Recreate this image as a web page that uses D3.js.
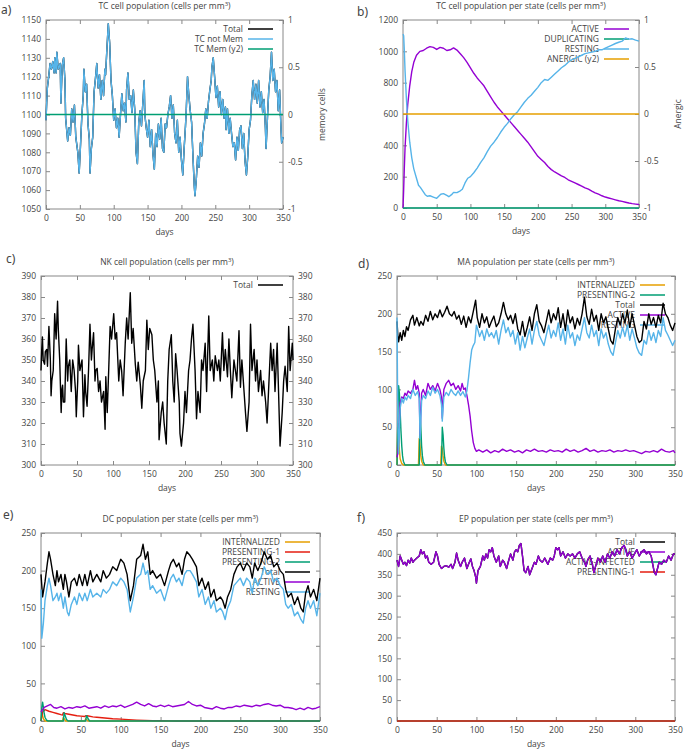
<!DOCTYPE html>
<html>
<head>
<meta charset="utf-8">
<title>Cell populations</title>
<script src="https://cdn.jsdelivr.net/npm/d3@7"></script>
<style>
  body { margin: 0; background: #fff; }
  text { font-family: "Open Sans", sans-serif; fill: #444; }
</style>
</head>
<body>
<div id="chart"></div>

<script type="text/javascript">
// ---- data: [day, cells per mm3] ----
var dayTicks = [0, 50, 100, 150, 200, 250, 300, 350];

// a) TC cell population
var tcNotMem = [[0,1097],[1,1106],[2,1114],[4,1120],[6,1127],[8,1124],[10,1128],[12,1122],[13,1130],[15,1122],[16,1133],[18,1124],[21,1127],[22,1106],[24,1126],[26,1130],[28,1118],[29,1098],[32,1086],[34,1093],[36,1089],[38,1103],[40,1096],[42,1105],[44,1088],[47,1080],[49,1069],[51,1084],[53,1100],[55,1110],[56,1124],[58,1112],[60,1116],[62,1095],[64,1087],[65,1069],[67,1082],[69,1088],[71,1112],[73,1119],[75,1127],[77,1114],[79,1121],[81,1108],[83,1118],[85,1110],[87,1124],[88,1121],[90,1135],[92,1148],[94,1138],[96,1118],[98,1110],[100,1097],[102,1103],[104,1093],[106,1098],[108,1088],[110,1100],[112,1111],[114,1102],[116,1106],[118,1096],[119,1113],[121,1122],[123,1108],[125,1110],[127,1101],[129,1113],[131,1103],[133,1080],[135,1074],[137,1096],[139,1102],[141,1094],[143,1106],[145,1118],[146,1100],[148,1093],[150,1088],[152,1097],[154,1083],[156,1092],[158,1079],[160,1071],[162,1090],[164,1083],[166,1095],[168,1087],[170,1098],[172,1082],[174,1080],[176,1095],[178,1093],[180,1100],[182,1104],[184,1110],[186,1098],[188,1105],[190,1090],[192,1085],[194,1097],[196,1080],[198,1088],[200,1076],[202,1068],[204,1082],[206,1094],[207,1101],[209,1120],[211,1110],[213,1102],[215,1096],[217,1078],[219,1062],[220,1057],[222,1066],[224,1078],[226,1072],[228,1085],[230,1078],[232,1090],[234,1095],[236,1103],[238,1098],[240,1107],[242,1113],[244,1118],[245,1125],[247,1130],[249,1120],[251,1109],[253,1115],[255,1104],[257,1112],[259,1100],[261,1108],[263,1098],[265,1104],[266,1092],[268,1103],[270,1090],[272,1098],[274,1090],[276,1083],[278,1085],[280,1076],[282,1088],[284,1081],[286,1092],[288,1094],[290,1082],[292,1090],[294,1075],[296,1068],[298,1078],[300,1092],[302,1097],[304,1110],[306,1118],[308,1108],[310,1116],[312,1106],[314,1118],[316,1104],[318,1112],[320,1101],[322,1108],[324,1093],[325,1082],[327,1098],[329,1113],[331,1120],[333,1133],[335,1118],[337,1124],[339,1112],[341,1118],[343,1102],[345,1113],[347,1093],[348,1085],[350,1088]];
var tcTotal = tcNotMem;                 // total = not-memory cells, hidden below
var tcMem = [[0,0],[350,0]];            // y2

// b) TC cell population per state
var tcActive = [[0,0],[1,120],[2,260],[3,380],[5,540],[7,660],[10,780],[13,870],[16,930],[20,975],[25,1000],[30,1005],[35,1020],[40,1030],[45,1025],[50,1012],[55,1025],[60,1020],[65,1005],[70,1010],[75,1022],[80,1008],[85,985],[90,960],[95,930],[100,895],[105,860],[110,830],[115,805],[120,780],[125,745],[130,710],[135,675],[140,645],[145,620],[150,595],[155,570],[160,545],[165,520],[170,495],[175,470],[180,445],[185,420],[190,390],[195,360],[200,330],[205,310],[210,290],[215,265],[220,245],[225,230],[230,218],[235,205],[240,195],[245,180],[250,170],[255,160],[260,150],[265,140],[270,128],[275,120],[280,108],[285,97],[290,88],[295,78],[300,70],[305,64],[310,58],[315,52],[320,46],[325,42],[330,37],[335,32],[340,28],[345,25],[350,22]];
var tcDuplicating = [[0,0],[350,0]];
var tcResting = [[0,1110],[1,1100],[2,1000],[3,880],[5,700],[7,560],[10,420],[13,320],[16,250],[20,190],[23,145],[26,130],[30,105],[33,85],[36,75],[40,78],[45,70],[50,62],[53,75],[56,88],[60,92],[65,80],[68,72],[72,85],[75,100],[80,98],[85,110],[88,120],[92,160],[96,190],[100,200],[105,225],[110,255],[115,290],[120,320],[125,360],[130,395],[135,420],[140,450],[145,485],[150,515],[155,540],[160,570],[165,595],[170,615],[175,645],[180,675],[185,700],[190,720],[195,745],[200,770],[205,800],[210,820],[215,815],[220,835],[225,855],[230,875],[235,895],[240,910],[245,930],[250,945],[255,955],[260,965],[265,975],[270,985],[275,990],[280,995],[285,1000],[290,1010],[295,1010],[300,1020],[305,1030],[310,1040],[315,1050],[320,1058],[325,1065],[330,1085],[335,1078],[340,1080],[345,1072],[350,1065]];
var tcAnergic = [[0,0],[350,0]];        // y2

// c) NK cell population
var nkTotal = [[0,345],[1,355],[2,361],[3,350],[5,348],[6,354],[8,355],[9,347],[11,366],[13,350],[14,333],[15,340],[17,345],[19,372],[21,360],[23,378],[24,365],[26,350],[28,325],[29,336],[30,338],[31,330],[33,330],[35,360],[37,340],[38,347],[40,350],[42,335],[44,350],[46,345],[48,335],[49,323],[51,340],[52,357],[54,345],[57,350],[59,323],[61,343],[62,335],[64,328],[66,345],[68,367],[70,350],[71,355],[73,363],[75,340],[76,345],[78,346],[80,335],[82,340],[84,330],[87,335],[89,317],[90,342],[92,325],[94,345],[96,366],[98,360],[101,372],[103,360],[105,363],[108,340],[110,350],[112,345],[114,333],[117,358],[119,370],[121,360],[124,382],[126,358],[128,365],[131,348],[133,340],[135,349],[138,338],[140,327],[142,340],[145,345],[147,369],[149,355],[151,365],[154,362],[156,350],[158,345],[161,330],[163,340],[164,312],[167,325],[169,330],[171,320],[174,310],[176,340],[178,355],[181,362],[183,340],[185,330],[187,353],[189,345],[192,330],[193,315],[195,309],[198,320],[200,335],[202,325],[205,345],[207,350],[209,360],[211,367],[214,345],[216,322],[218,335],[221,325],[223,350],[225,345],[228,358],[230,335],[233,371],[235,345],[238,350],[240,340],[242,352],[245,345],[247,350],[249,340],[252,363],[254,345],[256,355],[259,342],[261,360],[263,345],[265,332],[268,350],[270,345],[272,340],[275,364],[277,337],[279,350],[282,335],[284,325],[286,316],[289,330],[291,367],[293,345],[296,355],[298,340],[300,350],[302,335],[305,345],[307,333],[309,340],[312,330],[314,320],[316,335],[319,358],[321,345],[323,355],[325,335],[328,358],[330,334],[332,309],[335,325],[337,340],[339,347],[342,335],[344,366],[346,345],[349,358],[350,350]];

// d) MA population per state
var maInternalized = [[0,0],[1,55],[2,40],[3,20],[4,8],[6,2],[8,0],[27,0],[28,35],[29,25],[30,12],[31,5],[33,0],[55,0],[56,25],[57,22],[58,12],[59,5],[61,0],[350,0]];
var maPresenting2 = [[0,0],[1,60],[2,105],[3,95],[4,70],[5,45],[6,25],[7,12],[8,5],[10,0],[28,0],[29,70],[30,50],[31,25],[32,12],[33,5],[35,0],[56,0],[57,50],[58,40],[59,22],[60,10],[61,4],[63,0],[350,0]];
var maTotal = [[0,190],[1,172],[2,163],[4,175],[6,165],[8,178],[10,170],[12,183],[14,178],[17,192],[20,198],[22,185],[25,195],[28,184],[30,190],[33,185],[36,198],[39,190],[42,203],[45,192],[48,200],[51,195],[54,205],[57,196],[60,202],[63,210],[66,200],[69,197],[72,203],[75,193],[78,198],[81,186],[84,197],[87,182],[90,196],[93,188],[96,203],[99,218],[101,195],[104,182],[107,200],[110,188],[113,196],[116,182],[119,190],[122,197],[125,183],[128,188],[131,200],[134,215],[137,200],[140,192],[143,198],[146,187],[149,200],[152,180],[155,172],[158,190],[161,170],[164,182],[167,196],[170,178],[173,200],[176,212],[179,190],[182,184],[185,175],[188,190],[191,205],[194,188],[197,200],[200,192],[203,208],[206,182],[209,200],[212,178],[215,205],[218,188],[221,196],[224,180],[227,194],[230,185],[233,200],[236,222],[239,196],[242,186],[245,206],[248,190],[251,198],[254,178],[257,200],[260,188],[263,196],[266,180],[269,165],[272,160],[275,180],[278,195],[281,185],[284,200],[287,188],[290,205],[293,182],[296,200],[299,185],[302,170],[305,162],[308,165],[311,190],[314,180],[317,200],[320,186],[323,195],[326,182],[329,198],[332,188],[335,214],[338,200],[341,195],[344,185],[347,178],[350,188]];
var maActive = [[0,10],[1,15],[2,30],[3,60],[4,82],[6,90],[8,88],[10,95],[12,92],[14,98],[17,95],[20,100],[22,112],[24,100],[26,105],[28,95],[29,40],[30,70],[31,95],[33,100],[36,92],[39,108],[42,100],[45,105],[48,98],[51,108],[54,100],[56,90],[57,62],[58,85],[59,100],[62,108],[65,112],[68,105],[71,108],[74,100],[77,105],[80,98],[82,108],[84,100],[86,102],[88,92],[90,80],[92,65],[94,45],[96,30],[98,22],[100,18],[103,20],[108,17],[113,20],[118,16],[123,19],[128,17],[133,21],[138,18],[143,20],[148,17],[153,19],[158,16],[163,20],[168,18],[173,21],[178,18],[183,19],[188,17],[193,20],[198,18],[203,19],[208,17],[213,21],[218,18],[223,20],[228,17],[233,19],[238,22],[243,18],[248,20],[253,17],[258,19],[263,18],[268,20],[273,17],[278,19],[283,18],[288,20],[293,18],[298,19],[303,17],[308,15],[313,18],[318,17],[323,19],[328,17],[333,21],[338,18],[343,17],[348,19],[350,16]];
var maResting = [[0,195],[1,60],[2,15],[3,45],[4,75],[6,88],[8,82],[10,90],[12,86],[14,92],[17,88],[20,100],[23,92],[26,97],[28,88],[29,35],[30,60],[31,85],[33,92],[36,88],[39,98],[42,92],[45,103],[48,95],[51,100],[54,92],[56,80],[57,58],[58,75],[59,90],[62,96],[65,92],[68,100],[71,95],[74,92],[77,98],[80,92],[83,97],[86,90],[88,98],[90,115],[92,135],[94,152],[96,158],[98,162],[100,185],[102,178],[104,170],[107,178],[110,165],[113,180],[116,170],[119,175],[122,168],[125,178],[128,160],[131,178],[134,192],[137,175],[140,182],[143,170],[146,178],[149,160],[152,175],[155,152],[158,170],[161,155],[164,168],[167,180],[170,160],[173,178],[176,190],[179,172],[182,165],[185,158],[188,172],[191,185],[194,168],[197,178],[200,170],[203,188],[206,165],[209,180],[212,160],[215,185],[218,168],[221,175],[224,158],[227,172],[230,165],[233,180],[236,195],[239,175],[242,168],[245,185],[248,170],[251,178],[254,158],[257,180],[260,168],[263,175],[266,160],[269,150],[272,145],[275,162],[278,178],[281,168],[284,182],[287,170],[290,185],[293,165],[296,180],[299,168],[302,155],[305,148],[308,145],[311,165],[314,160],[317,178],[320,165],[323,175],[326,162],[329,178],[332,170],[335,195],[338,178],[341,172],[344,165],[347,158],[350,165]];

// e) DC population per state
var dcInternalized = [[0,0],[1,10],[2,7],[3,3],[5,0],[27,0],[28,5],[29,3],[31,0],[55,0],[56,3],[57,2],[59,0],[350,0]];
var dcPresenting1 = [[0,0],[2,12],[5,15],[10,13],[15,11.5],[20,10],[25,8.5],[27,8],[28,11],[30,10],[35,9],[40,8],[45,7],[50,6.5],[55,6],[56,7],[58,7],[65,5.5],[70,5],[80,4],[90,3],[100,2.5],[110,1.8],[120,1.2],[130,0.8],[140,0.5],[150,0.3],[160,0.1],[170,0],[350,0]];
var dcPresenting2 = [[0,0],[1,18],[2,25],[3,18],[4,10],[5,5],[7,1],[9,0],[28,0],[29,11],[30,8],[31,5],[32,2],[34,0],[56,0],[57,7],[58,6],[59,3],[61,0],[350,0]];
var dcTotal = [[0,195],[2,165],[5,185],[8,210],[10,225],[12,215],[15,195],[18,180],[20,200],[22,185],[25,195],[28,175],[30,195],[32,185],[35,165],[38,185],[42,190],[45,180],[48,195],[52,180],[55,195],[58,180],[62,200],[65,185],[70,195],[75,185],[78,200],[82,190],[86,195],[90,205],[95,200],[100,215],[104,210],[108,195],[112,160],[116,180],[120,215],[125,220],[128,235],[131,215],[134,225],[137,195],[140,200],[145,190],[150,195],[155,180],[160,200],[163,210],[166,215],[170,205],[173,210],[177,195],[180,215],[183,225],[187,220],[190,215],[195,205],[198,180],[202,190],[206,175],[210,185],[213,165],[217,175],[220,160],[225,165],[228,160],[231,150],[234,165],[238,175],[242,195],[246,205],[250,210],[254,200],[258,210],[262,205],[265,190],[268,210],[272,200],[276,210],[280,225],[284,215],[288,220],[292,205],[296,210],[300,200],[304,195],[307,175],[310,165],[314,170],[318,155],[322,165],[326,150],[329,145],[332,170],[335,180],[338,165],[342,175],[346,160],[350,190]];
var dcActive = [[0,12],[4,18],[8,20],[12,22],[16,18],[20,17],[25,19],[30,16],[35,18],[40,17],[45,19],[50,18],[55,20],[60,17],[65,18],[70,19],[75,17],[80,20],[85,18],[90,20],[95,19],[100,21],[105,18],[110,20],[115,22],[120,25],[125,22],[130,20],[135,23],[140,20],[145,19],[150,21],[155,19],[160,21],[165,19],[170,20],[175,21],[180,22],[185,26],[190,22],[195,20],[200,21],[205,18],[210,17],[215,16],[220,19],[225,17],[230,16],[235,18],[240,18],[245,20],[250,19],[255,21],[260,20],[265,19],[270,21],[275,20],[280,22],[285,23],[290,21],[295,20],[300,21],[305,18],[310,18],[315,17],[320,15],[325,17],[330,15],[335,18],[340,16],[345,17],[350,19]];
var dcResting = [[0,175],[1,110],[3,130],[5,160],[8,180],[10,190],[12,180],[15,160],[18,165],[20,170],[22,160],[25,170],[28,150],[30,165],[33,145],[35,140],[38,155],[42,165],[45,155],[48,170],[52,160],[55,170],[58,160],[62,175],[65,165],[70,170],[75,165],[78,175],[82,170],[86,175],[90,185],[95,180],[100,190],[104,185],[108,175],[112,145],[116,165],[120,190],[125,195],[128,210],[131,195],[134,200],[137,175],[140,180],[145,170],[150,175],[155,160],[160,180],[163,190],[166,195],[170,185],[173,190],[177,180],[180,195],[183,200],[187,200],[190,195],[195,185],[198,165],[202,175],[206,155],[210,165],[213,150],[217,160],[220,145],[225,150],[228,145],[231,135],[234,150],[238,160],[242,180],[246,185],[250,190],[254,180],[258,190],[262,185],[265,170],[268,190],[272,180],[276,190],[280,205],[284,195],[288,200],[292,185],[296,190],[300,180],[304,175],[307,155],[310,150],[314,155],[318,140],[322,145],[326,135],[329,130],[332,150],[335,160],[338,150],[342,160],[346,140],[350,170]];

// f) EP population per state
var epActive = [[0,385],[2,370],[4,395],[6,385],[8,375],[10,380],[12,372],[14,385],[16,378],[18,390],[20,380],[22,385],[25,390],[28,395],[30,410],[32,400],[34,405],[36,390],[38,395],[40,380],[43,375],[46,380],[49,405],[51,395],[53,375],[56,365],[59,370],[62,372],[65,368],[68,375],[70,365],[73,380],[75,402],[77,385],[80,370],[82,380],[85,390],[88,365],[90,375],[93,388],[95,370],[97,360],[99,345],[100,330],[102,360],[105,370],[108,395],[110,385],[112,400],[114,390],[116,410],[118,405],[120,415],[122,395],[125,380],[128,395],[130,370],[133,385],[135,380],[138,365],[140,380],[143,400],[146,385],[148,405],[150,410],[152,405],[154,420],[156,425],[158,395],[160,360],[162,355],[165,370],[167,350],[170,365],[173,380],[175,375],[178,395],[180,385],[183,380],[186,390],[190,375],[193,390],[196,385],[198,395],[200,415],[202,410],[204,415],[206,395],[209,405],[212,390],[215,400],[218,395],[221,400],[224,390],[227,400],[230,405],[233,390],[236,380],[238,370],[240,385],[243,395],[246,375],[248,355],[250,370],[253,390],[256,380],[259,395],[262,380],[265,400],[268,390],[271,405],[274,395],[277,410],[280,400],[283,415],[286,420],[288,410],[290,395],[293,405],[296,390],[299,400],[302,410],[305,395],[308,405],[311,410],[314,400],[317,405],[320,395],[322,375],[324,355],[326,350],[328,365],[330,380],[333,375],[336,385],[339,380],[342,395],[345,385],[348,400],[350,400]];
var epTotal = epActive;                 // total lies under the active line
var epActiveInfected = [[0,0],[350,0]];
var epPresenting1 = [[0,0],[350,0]];

// ---- drawing ----
var width = 685, height = 751;
var col = {black:"#000000", blue:"#56b4e9", green:"#009e73", orange:"#e69f00", purple:"#9400d3", red:"#e51e10"};
var plain = d3.format("d");

var svg = d3.select("#chart").append("svg")
    .attr("width", width)
    .attr("height", height);

function title(g, cx, cy, label) {
  var t = g.append("text").attr("x", cx).attr("y", cy)
      .attr("text-anchor", "middle").style("font-size", "8.5px");
  t.append("tspan").text(label + " (cells per mm");
  t.append("tspan").attr("dy", -3).style("font-size", "6px").text("3");
  t.append("tspan").attr("dy", 3).text(")");
}

function panel(p) {
  var g = svg.append("g");
  var x = d3.scaleLinear().domain([0, 350]).range([p.x0, p.x1]);
  var y = d3.scaleLinear().domain(p.yDomain).range([p.y1, p.y0]);
  var y2 = p.y2Domain ? d3.scaleLinear().domain(p.y2Domain).range([p.y1, p.y0]) : null;

  // axes, ticks pointing inside like gnuplot
  var ax = [];
  ax.push(g.append("g").attr("transform", "translate(0," + p.y1 + ")")
    .call(d3.axisBottom(x).tickValues(dayTicks).tickSize(-4).tickPadding(6).tickFormat(plain)));
  ax.push(g.append("g").attr("transform", "translate(0," + p.y0 + ")")
    .call(d3.axisTop(x).tickValues(dayTicks).tickSize(-4).tickFormat("")));
  ax.push(g.append("g").attr("transform", "translate(" + p.x0 + ",0)")
    .call(d3.axisLeft(y).tickValues(p.yTicks).tickSize(-4).tickPadding(5).tickFormat(plain)));
  if (y2) {
    ax.push(g.append("g").attr("transform", "translate(" + p.x1 + ",0)")
      .call(d3.axisRight(y2).tickValues(p.y2Ticks).tickSize(-4).tickPadding(5)
        .tickFormat(function(d) { return String(d); })));
  } else {
    ax.push(g.append("g").attr("transform", "translate(" + p.x1 + ",0)")
      .call(d3.axisRight(y).tickValues(p.yTicks).tickSize(-4).tickPadding(5)
        .tickFormat(p.mirrorLabels ? plain : "")));
  }
  ax.forEach(function(a) {
    a.select(".domain").remove();
    a.selectAll("line").attr("stroke", "#888");
    a.selectAll("text").style("font-size", "8.5px").style("font-family", '"Open Sans", sans-serif').attr("fill", "#444");
  });
  g.append("rect").attr("x", p.x0).attr("y", p.y0)
    .attr("width", p.x1 - p.x0).attr("height", p.y1 - p.y0)
    .attr("fill", "none").attr("stroke", "#888").attr("stroke-width", 1);

  // titles and labels
  title(g, (p.x0 + p.x1) / 2, p.y0 - 11, p.title);
  g.append("text").attr("x", p.lx).attr("y", p.ly).text(p.letter)
    .style("font-family", '"Noto Sans", sans-serif').style("font-size", "12px").attr("fill", "#111");
  if (p.days)
    g.append("text").attr("x", (p.x0 + p.x1) / 2).attr("y", p.y1 + 26)
      .attr("text-anchor", "middle").style("font-size", "8.5px").text("days");
  if (p.y2Label)
    g.append("text").attr("transform", "translate(" + (p.x1 + 42) + "," + ((p.y0 + p.y1) / 2) + ") rotate(-90)")
      .attr("text-anchor", "middle").style("font-size", "8.5px").text(p.y2Label);

  // key first, data drawn over it
  p.series.forEach(function(s, i) {
    var ky = p.y0 + 9 + i * 10;
    g.append("text").attr("x", p.x1 - 40).attr("y", ky + 3)
      .attr("text-anchor", "end").style("font-size", "8.5px").text(s.name);
    g.append("line").attr("x1", p.x1 - 35).attr("x2", p.x1 - 10)
      .attr("y1", ky).attr("y2", ky)
      .attr("stroke", s.color).attr("stroke-width", 1.5);
  });

  p.series.forEach(function(s) {
    var ys = s.y2 ? y2 : y;
    var line = d3.line().x(function(d) { return x(d[0]); }).y(function(d) { return ys(d[1]); });
    g.append("path").datum(s.data).attr("d", line)
      .attr("fill", "none").attr("stroke", s.color).attr("stroke-width", 1.4)
      .attr("stroke-linejoin", "round");
  });
}

panel({ x0: 46, x1: 283, y0: 20, y1: 209, letter: "a)", lx: 1, ly: 14, days: true,
  title: "TC cell population", yDomain: [1050, 1150], yTicks: d3.range(1050, 1151, 10),
  y2Domain: [-1, 1], y2Ticks: [-1, -0.5, 0, 0.5, 1], y2Label: "memory cells",
  series: [
    { name: "Total", data: tcTotal, color: col.black },
    { name: "TC not Mem", data: tcNotMem, color: col.blue },
    { name: "TC Mem (y2)", data: tcMem, color: col.green, y2: true }
  ] });

panel({ x0: 403, x1: 639, y0: 20, y1: 208, letter: "b)", lx: 357, ly: 16, days: true,
  title: "TC cell population per state", yDomain: [0, 1200], yTicks: d3.range(0, 1201, 200),
  y2Domain: [-1, 1], y2Ticks: [-1, -0.5, 0, 0.5, 1], y2Label: "Anergic",
  series: [
    { name: "ACTIVE", data: tcActive, color: col.purple },
    { name: "DUPLICATING", data: tcDuplicating, color: col.green },
    { name: "RESTING", data: tcResting, color: col.blue },
    { name: "ANERGIC (y2)", data: tcAnergic, color: col.orange, y2: true }
  ] });

panel({ x0: 41, x1: 293, y0: 276, y1: 465, letter: "c)", lx: 6, ly: 263, days: true, mirrorLabels: true,
  title: "NK cell population", yDomain: [300, 390], yTicks: d3.range(300, 391, 10),
  series: [
    { name: "Total", data: nkTotal, color: col.black }
  ] });

panel({ x0: 397, x1: 675, y0: 276, y1: 465, letter: "d)", lx: 358, ly: 268, days: true,
  title: "MA population per state", yDomain: [0, 250], yTicks: d3.range(0, 251, 50),
  series: [
    { name: "INTERNALIZED", data: maInternalized, color: col.orange },
    { name: "PRESENTING-2", data: maPresenting2, color: col.green },
    { name: "Total", data: maTotal, color: col.black },
    { name: "ACTIVE", data: maActive, color: col.purple },
    { name: "RESTING", data: maResting, color: col.blue }
  ] });

panel({ x0: 41, x1: 320, y0: 533, y1: 721, letter: "e)", lx: 3, ly: 519, days: true,
  title: "DC population per state", yDomain: [0, 250], yTicks: d3.range(0, 251, 50),
  series: [
    { name: "INTERNALIZED", data: dcInternalized, color: col.orange },
    { name: "PRESENTING-1", data: dcPresenting1, color: col.red },
    { name: "PRESENTING-2", data: dcPresenting2, color: col.green },
    { name: "Total", data: dcTotal, color: col.black },
    { name: "ACTIVE", data: dcActive, color: col.purple },
    { name: "RESTING", data: dcResting, color: col.blue }
  ] });

panel({ x0: 397, x1: 675, y0: 533, y1: 721, letter: "f)", lx: 357, ly: 522, days: true,
  title: "EP population per state", yDomain: [0, 450], yTicks: d3.range(0, 451, 50),
  series: [
    { name: "Total", data: epTotal, color: col.black },
    { name: "ACTIVE", data: epActive, color: col.purple },
    { name: "ACTIVE-INFECTED", data: epActiveInfected, color: col.green },
    { name: "PRESENTING-1", data: epPresenting1, color: col.red }
  ] });
</script>
</body>
</html>
